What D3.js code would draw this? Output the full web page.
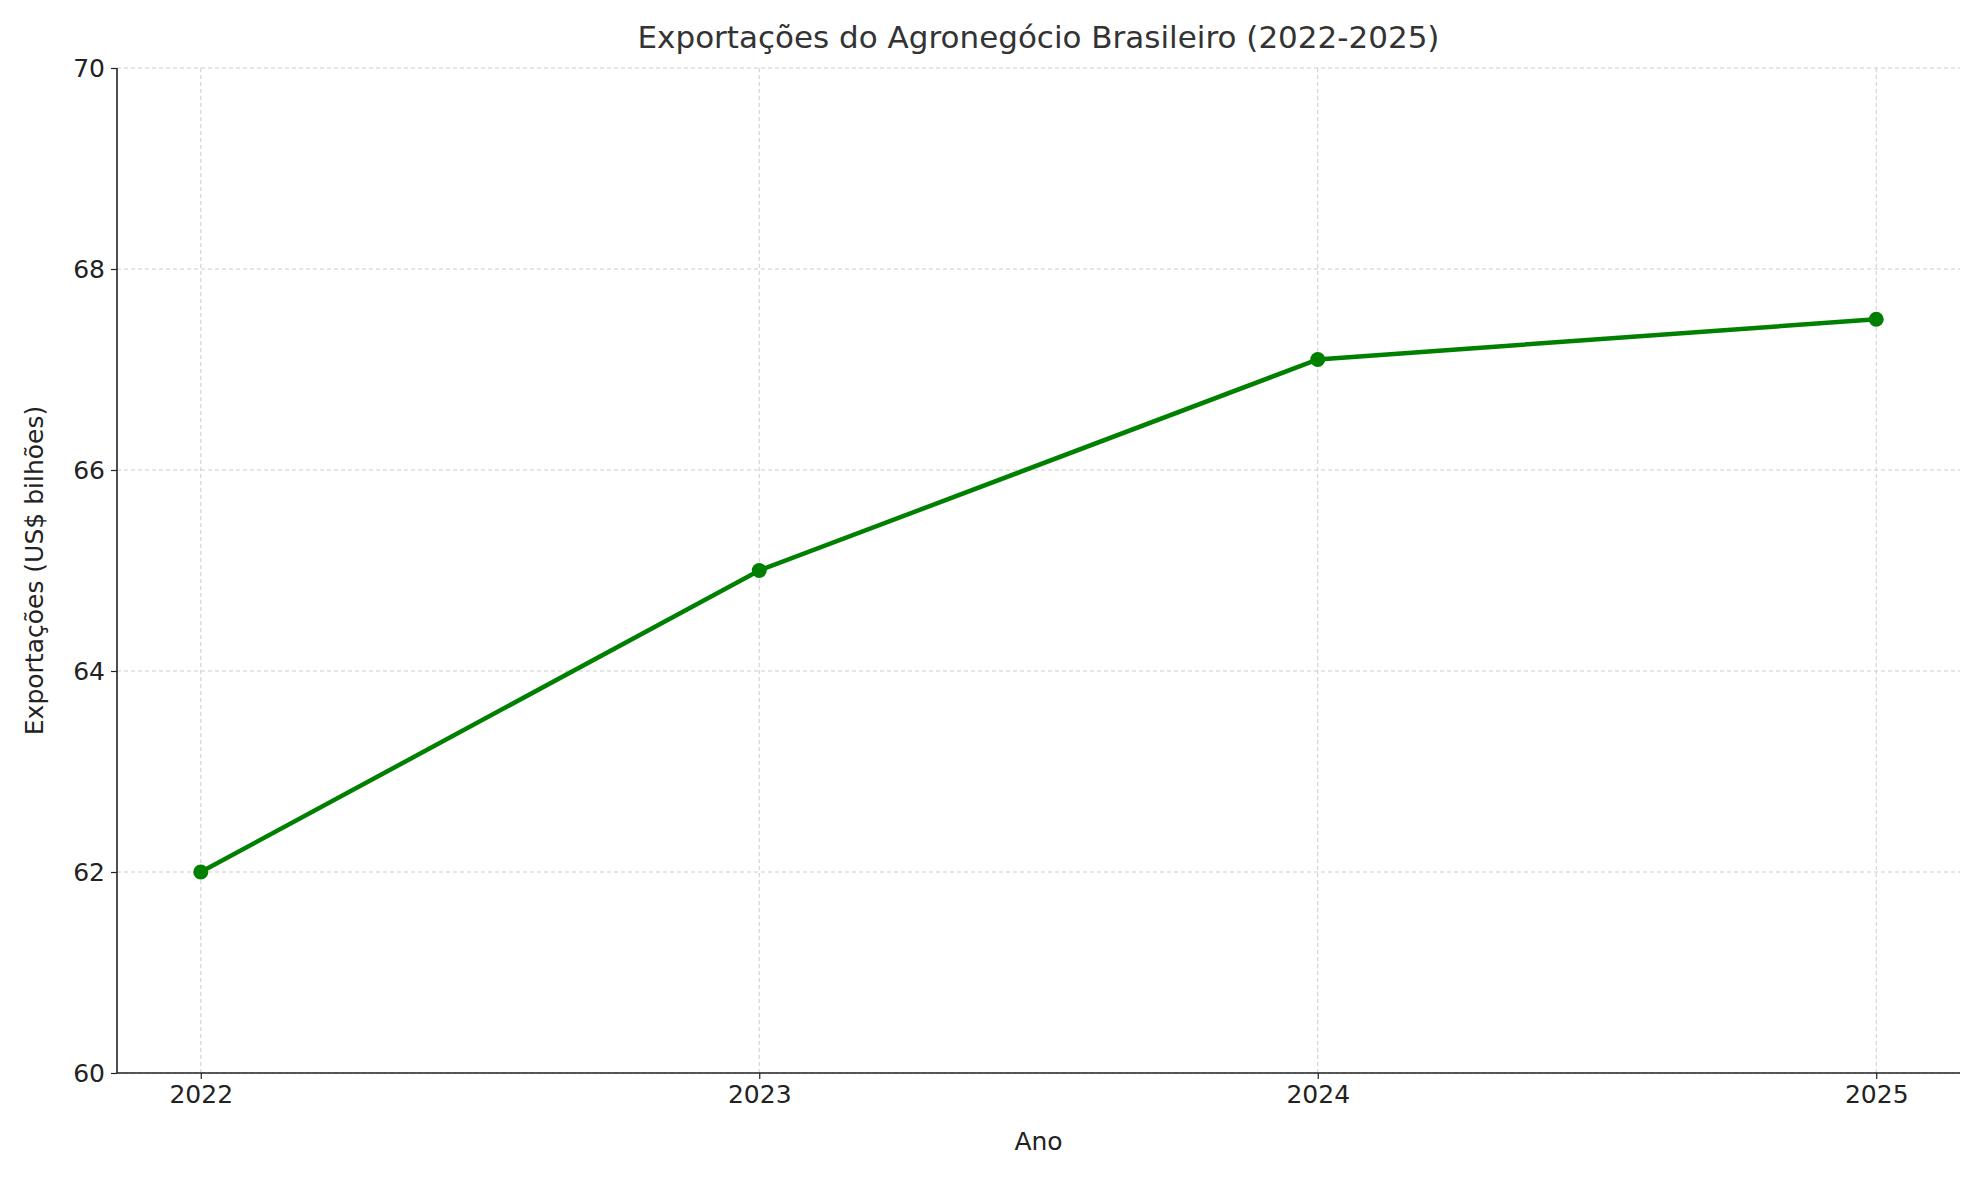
<!DOCTYPE html>
<html>
<head>
<meta charset="utf-8">
<script src="https://cdn.jsdelivr.net/npm/d3@7"></script>
<style>
  body { margin: 0; background: #fff; }
  text { font-family: "DejaVu Sans", sans-serif; }
</style>
</head>
<body>
<svg id="chart" width="1979" height="1180"></svg>
<script>
const years = [2022, 2023, 2024, 2025];
const exportsValues = [62, 65, 67.1, 67.5];
const yTicks = [60, 62, 64, 66, 68, 70];

const width = 1979, height = 1180;
const margin = {top: 68, right: 19, bottom: 107, left: 117};
const svg = d3.select('#chart');

// x domain padded by 5% like matplotlib
const pad = (2025 - 2022) * 0.05;
const x = d3.scaleLinear().domain([2022 - pad, 2025 + pad]).range([margin.left, width - margin.right]);
const y = d3.scaleLinear().domain([60, 70]).range([height - margin.bottom, margin.top]);

// grid
svg.append('g').selectAll('line').data(years).join('line')
  .attr('x1', d => x(d)).attr('x2', d => x(d))
  .attr('y1', y(60)).attr('y2', y(70))
  .attr('stroke', '#ccc').attr('stroke-dasharray', '4,3').attr('stroke-width', 1);
svg.append('g').selectAll('line').data(yTicks).join('line')
  .attr('x1', x.range()[0]).attr('x2', x.range()[1])
  .attr('y1', d => y(d)).attr('y2', d => y(d))
  .attr('stroke', '#ccc').attr('stroke-dasharray', '4,3').attr('stroke-width', 1);

// axes
const xAxis = svg.append('g').attr('transform', `translate(0,${y(60)})`)
  .call(d3.axisBottom(x).tickValues(years).tickFormat(d3.format('d')).tickSize(6).tickPadding(6));
const yAxis = svg.append('g').attr('transform', `translate(${x.range()[0]},0)`)
  .call(d3.axisLeft(y).tickValues(yTicks).tickSize(6).tickPadding(6));
[xAxis, yAxis].forEach(a => {
  a.selectAll('text').attr('font-size', 25).attr('fill', '#222').style('font-family', '"DejaVu Sans", sans-serif');
  a.selectAll('line').attr('stroke', '#222').attr('stroke-width', 1.2);
  a.select('.domain').remove();
});
// spines: left and bottom only
svg.append('line').attr('x1', x.range()[0]).attr('x2', x.range()[0]).attr('y1', y(60)).attr('y2', y(70)).attr('stroke', '#222').attr('stroke-width', 1.6);
svg.append('line').attr('x1', x.range()[0]).attr('x2', x.range()[1]).attr('y1', y(60)).attr('y2', y(60)).attr('stroke', '#222').attr('stroke-width', 1.6);

// line
const pts = years.map((d, i) => [d, exportsValues[i]]);
svg.append('path').datum(pts)
  .attr('d', d3.line().x(d => x(d[0])).y(d => y(d[1])))
  .attr('fill', 'none').attr('stroke', 'green').attr('stroke-width', 4.5);
svg.append('g').selectAll('circle').data(pts).join('circle')
  .attr('cx', d => x(d[0])).attr('cy', d => y(d[1])).attr('r', 7.5).attr('fill', 'green');

// labels
svg.append('text').attr('x', (x.range()[0] + x.range()[1]) / 2).attr('y', 48)
  .attr('text-anchor', 'middle').attr('font-size', 31).attr('fill', '#333')
  .text('Exportações do Agronegócio Brasileiro (2022-2025)');
svg.append('text').attr('x', (x.range()[0] + x.range()[1]) / 2).attr('y', 1150)
  .attr('text-anchor', 'middle').attr('font-size', 25).attr('fill', '#222').text('Ano');
svg.append('text').attr('transform', `translate(43,${(y(60) + y(70)) / 2}) rotate(-90)`)
  .attr('text-anchor', 'middle').attr('font-size', 25).attr('fill', '#222').text('Exportações (US$ bilhões)');
</script>
</body>
</html>
